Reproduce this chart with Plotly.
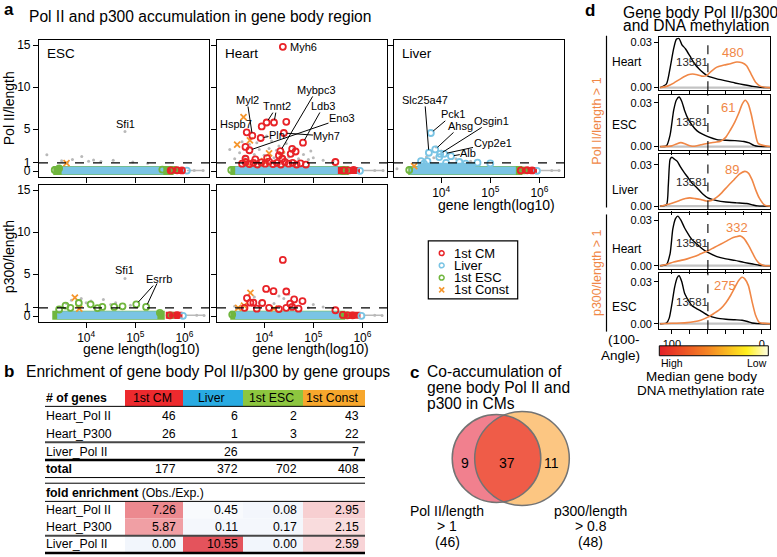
import numpy as np
import plotly.graph_objects as go

W, H = 777, 557
FONT = "Liberation Sans, Arial, Helvetica, sans-serif"

# ======================= DATA =======================
# ---- panel a: x = log10(gene length), y = signal/length ----
band_level = [0.1, 0.1]

esc_pol_band = {"green": [3.33, 5.78], "cyan": [3.50, 5.57], "red": [5.66, 5.99], "tail": [6.05, 6.39]}
esc_pol_gray_x = [3.20, 3.91, 4.79, 3.50, 3.72, 4.05, 4.30, 4.55, 4.95, 5.25, 3.62, 4.15, 6.20, 6.38]
esc_pol_gray_y = [1.95, 1.75, 4.74, 1.25, 1.40, 1.20, 1.15, 1.30, 1.10, 0.95, 1.05, 1.35, 0.10, 0.08]
esc_pol_green_x = [3.36, 3.45, 5.55, 5.70, 5.80]
esc_pol_green_y = [0.15, 0.35, 0.20, 0.10, 0.15]
esc_pol_orange_x = [3.60]
esc_pol_orange_y = [0.97]
esc_pol_red_x = [5.72, 5.85, 5.95]
esc_pol_red_y = [0.10, 0.12, 0.10]
esc_pol_cyan_x = [6.05]
esc_pol_cyan_y = [0.08]
esc_pol_label_gene = ["Sfi1"]
esc_pol_label_x = [4.79]
esc_pol_label_y = [4.74]

heart_pol_band = {"green": [3.31, 5.72], "cyan": [3.41, 5.55], "red": [5.50, 5.95], "tail": [6.02, 6.43]}
heart_pol_red_x = [4.38, 4.05, 4.20, 3.95, 4.45, 3.645, 3.76, 3.93, 4.40, 4.79, 3.62, 3.70, 4.33, 4.57,
                   4.54, 4.37, 4.64, 3.62, 4.06, 5.45, 3.82, 4.30, 3.55, 3.62, 3.70, 3.78, 3.86, 3.94,
                   4.02, 4.10, 4.18, 4.26, 4.34, 4.42, 4.50, 4.58, 4.66, 4.74, 4.85, 5.62, 5.72, 5.82]
heart_pol_red_y = [14.8, 5.8, 5.8, 5.33, 5.88, 4.63, 4.24, 3.96, 4.55, 3.40, 2.90, 2.50, 2.40, 2.67,
                   2.08, 1.49, 2.35, 1.49, 1.57, 1.10, 1.41, 1.88, 0.90, 1.10, 0.85, 1.00, 0.80, 1.05,
                   0.90, 1.15, 0.85, 1.00, 0.80, 1.10, 0.90, 1.00, 0.80, 0.95, 0.80, 0.10, 0.10, 0.15]
heart_pol_orange_x = [3.58, 3.45, 3.71, 4.10, 4.36, 3.65, 4.00]
heart_pol_orange_y = [6.43, 3.18, 3.68, 2.12, 2.00, 1.00, 1.20]
heart_pol_gray_x = [3.50, 3.60, 3.70, 3.80, 3.90, 4.00, 4.10, 4.20, 4.30, 4.40, 4.50, 4.60, 4.70, 4.80,
                    4.90, 5.00, 5.20, 3.40, 3.55, 4.15, 4.25, 4.45, 3.85, 4.05, 3.30, 4.95, 5.40, 6.25, 6.42]
heart_pol_gray_y = [2.2, 1.8, 3.2, 2.0, 2.6, 1.9, 2.7, 1.6, 3.0, 2.2, 1.7, 2.9, 1.5, 2.0,
                    1.4, 1.6, 1.3, 1.5, 3.5, 3.6, 2.5, 3.3, 3.4, 4.2, 2.6, 2.4, 1.2, 0.10, 0.08]
heart_pol_green_x = [3.33, 5.68]
heart_pol_green_y = [0.15, 0.10]
heart_pol_cyan_x = [5.95]
heart_pol_cyan_y = [0.05]
heart_pol_label_gene = ["Myh6", "Myl2", "Tnnt2", "Tnnt2", "Mybpc3", "Ldb3", "Eno3", "Hspb7", "Pln", "Myh7"]
heart_pol_label_x = [4.38, 3.76, 4.05, 4.20, 4.33, 4.79, 3.70, 3.645, 3.93, 4.40]
heart_pol_label_y = [14.8, 4.24, 5.8, 5.8, 2.40, 3.40, 2.50, 4.63, 3.96, 4.55]

liver_pol_band = {"green": [3.33, 5.65], "cyan": [3.36, 5.52], "red": [5.60, 5.95], "tail": [6.02, 6.42]}
liver_pol_blob_x = [3.52, 4.70]
liver_pol_blob_y = [0.6, 0.6]
liver_pol_cyan_x = [3.79, 3.75, 3.88, 3.98, 4.06, 4.20, 3.96, 3.59, 3.72, 5.00, 4.74, 4.37, 3.65, 4.10, 4.50, 5.95]
liver_pol_cyan_y = [4.55, 2.20, 2.60, 2.08, 2.08, 1.80, 1.69, 1.20, 1.20, 0.93, 1.02, 1.10, 0.90, 1.00, 0.90, 0.05]
liver_pol_gray_x = [3.90, 4.00, 3.85, 4.30, 3.70, 4.60, 3.10, 6.25, 6.40]
liver_pol_gray_y = [2.9, 2.4, 1.6, 1.5, 1.7, 1.2, 0.3, 0.10, 0.08]
liver_pol_orange_x = [3.45]
liver_pol_orange_y = [0.6]
liver_pol_green_x = [3.35, 5.68]
liver_pol_green_y = [0.15, 0.10]
liver_pol_red_x = [5.62, 5.75, 5.85]
liver_pol_red_y = [0.10, 0.12, 0.10]
liver_pol_label_gene = ["Slc25a47", "Pck1", "Ahsg", "Osgin1", "Cyp2e1", "Alb"]
liver_pol_label_x = [3.75, 3.79, 3.88, 3.98, 4.06, 4.20]
liver_pol_label_y = [2.20, 4.55, 2.60, 2.08, 2.08, 1.80]

esc_p300_band = {"green": [3.31, 5.60], "cyan": [3.41, 5.45], "red": [5.62, 5.96], "tail": [6.02, 6.40]}
esc_p300_green_x = [5.02, 5.22, 3.58, 3.85, 4.09, 4.33, 4.74, 4.57, 3.68, 4.23, 3.45, 5.50, 5.72]
esc_p300_green_y = [1.41, 1.10, 1.26, 1.57, 1.41, 1.10, 1.18, 1.10, 1.00, 0.97, 0.80, 0.40, 0.10]
esc_p300_orange_x = [3.77, 3.86]
esc_p300_orange_y = [2.2, 0.9]
esc_p300_gray_x = [4.79, 3.70, 3.90, 4.10, 4.35, 4.60, 4.00, 3.60, 4.50, 4.90, 6.25, 6.40]
esc_p300_gray_y = [4.5, 1.9, 2.1, 1.8, 2.0, 1.6, 1.6, 1.5, 1.4, 1.3, 0.10, 0.08]
esc_p300_red_x = [5.70, 5.85]
esc_p300_red_y = [0.10, 0.12]
esc_p300_cyan_x = [5.97]
esc_p300_cyan_y = [0.05]
esc_p300_label_gene = ["Sfi1", "Esrrb", "Esrrb"]
esc_p300_label_x = [4.79, 5.02, 5.22]
esc_p300_label_y = [4.5, 1.41, 1.10]

heart_p300_band = {"green": [3.31, 5.65], "cyan": [3.41, 5.55], "red": [5.62, 5.96], "tail": [6.02, 6.40]}
heart_p300_red_x = [4.38, 4.04, 4.19, 4.45, 3.65, 3.72, 3.78, 3.96, 4.61, 4.78, 4.53, 4.57, 5.45, 3.60,
                    3.85, 4.10, 4.30, 4.45, 4.70, 5.60, 5.70, 5.80]
heart_p300_red_y = [6.7, 3.25, 2.98, 2.94, 2.16, 1.61, 1.61, 1.57, 2.0, 1.8, 1.49, 1.1, 0.71, 1.0,
                    0.9, 1.0, 0.85, 1.0, 0.9, 0.15, 0.10, 0.10]
heart_p300_orange_x = [3.72, 3.47, 3.59, 4.20]
heart_p300_orange_y = [2.78, 1.0, 1.25, 0.9]
heart_p300_gray_x = [3.40, 3.90, 4.20, 4.40, 4.60, 4.90, 5.20, 4.50, 3.80, 5.00, 4.30, 6.25, 6.40]
heart_p300_gray_y = [1.2, 1.6, 1.5, 2.1, 1.3, 1.0, 1.1, 2.6, 2.3, 1.4, 2.4, 0.10, 0.08]
heart_p300_green_x = [3.35, 5.68]
heart_p300_green_y = [0.20, 0.10]
heart_p300_cyan_x = [5.98]
heart_p300_cyan_y = [0.05]

legend_names = ["1st CM", "Liver", "1st ESC", "1st Const"]

# ---- panel b ----
groups = ["1st CM", "Liver", "1st ESC", "1st Const"]
count_rows = ["Heart_Pol II", "Heart_P300", "Liver_Pol II"]
counts_heart_pol = [46, 6, 2, 43]
counts_heart_p300 = [26, 1, 3, 22]
counts_liver_pol = [None, 26, None, 7]
totals = [177, 372, 702, 408]
fold_rows = ["Heart_Pol II", "Heart_P300", "Liver_Pol II"]
fold_heart_pol = [7.26, 0.45, 0.08, 2.95]
fold_heart_p300 = [5.87, 0.11, 0.17, 2.15]
fold_liver_pol = [0.00, 10.55, 0.00, 2.59]

# ---- panel c ----
venn_only_pol = 9
venn_both = 37
venn_only_p300 = 11
venn_pol_total = 46
venn_p300_total = 48

# ---- panel d: x = 100-Angle, y = density ----
dens_groups = ["Heart", "ESC", "Liver", "Heart", "ESC"]
dens_n_all = [13581, 13581, 13581, 13581, 13581]
dens_n_sel = [480, 61, 89, 332, 275]
d1_black_v = [113, 106, 102, 98, 95, 92, 89, 85, 80, 75, 70, 65, 60, 50, 40, 30, 20, 10, 2, -9]
d1_black_y = [0, 0.0025, 0.013, 0.026, 0.032, 0.0325, 0.0285, 0.0258, 0.021, 0.016, 0.0125, 0.0098, 0.0076,
              0.0058, 0.0045, 0.0031, 0.0019, 0.0008, 0.0002, 0]
d1_orange_v = [113, 105, 98, 90, 82, 77, 72, 67, 62, 56, 50, 42, 35, 28, 22, 17, 12, 7, 2, -5, -9]
d1_orange_y = [0, 0.001, 0.003, 0.006, 0.0085, 0.009, 0.0085, 0.0076, 0.0078, 0.011, 0.0136, 0.015, 0.0158,
               0.017, 0.0165, 0.0145, 0.009, 0.0035, 0.001, 0.0001, 0]
d2_black_v = [113, 106, 102, 98, 95, 92, 89, 86, 82, 78, 72, 66, 60, 50, 40, 30, 20, 14, 9, 4, -9]
d2_black_y = [0, 0.0005, 0.008, 0.025, 0.032, 0.034, 0.031, 0.025, 0.019, 0.015, 0.0108, 0.0085, 0.0068,
              0.0048, 0.0043, 0.0041, 0.0035, 0.0025, 0.0008, 0.0001, 0]
d2_orange_v = [113, 100, 95, 90, 85, 80, 75, 68, 60, 52, 46, 40, 35, 30, 26, 22, 18.5, 15, 12, 8, 4, -9]
d2_orange_y = [0, 0.0005, 0.0018, 0.0027, 0.0018, 0.0006, 0.0002, 0.0012, 0.0023, 0.003, 0.0036, 0.0065,
               0.0114, 0.017, 0.0225, 0.029, 0.0318, 0.029, 0.0225, 0.011, 0.002, 0]
d3_black_v = [113, 106, 104, 102, 100, 97, 94, 91, 87, 83, 78, 72, 66, 60, 50, 40, 28, 17, 10, 5, -9]
d3_black_y = [0, 0.001, 0.015, 0.034, 0.0355, 0.034, 0.0325, 0.029, 0.025, 0.0215, 0.017, 0.0132, 0.009,
              0.006, 0.004, 0.003, 0.0024, 0.0019, 0.0009, 0.0002, 0]
d3_orange_v = [113, 106, 100, 92, 85, 80, 74, 68, 62, 56, 50, 45, 38, 31, 25, 19, 15, 11, 7, 3, -3, -9]
d3_orange_y = [0, 0.001, 0.0022, 0.004, 0.0055, 0.006, 0.0055, 0.0048, 0.0038, 0.0042, 0.0065, 0.0095,
               0.0145, 0.0192, 0.0232, 0.0252, 0.024, 0.0192, 0.012, 0.006, 0.0008, 0]
d4_black_v = [113, 106, 102, 99, 96, 93.5, 90, 86, 82, 78, 72, 66, 60, 50, 40, 30, 20, 10, 3, -9]
d4_black_y = [0, 0.0008, 0.008, 0.024, 0.031, 0.0326, 0.030, 0.025, 0.021, 0.0175, 0.0141, 0.011, 0.0087,
              0.006, 0.0045, 0.0035, 0.0022, 0.0011, 0.0003, 0]
d4_orange_v = [113, 105, 98, 90, 83, 75, 68, 60, 53, 46, 40, 34, 29, 24, 20, 15, 11, 7, 3, -2, -9]
d4_orange_y = [0, 0.001, 0.0025, 0.0035, 0.0045, 0.006, 0.0078, 0.0098, 0.012, 0.0141, 0.016, 0.018, 0.019,
               0.0196, 0.018, 0.0135, 0.009, 0.0045, 0.0015, 0.0002, 0]
d5_black_v = [113, 106, 103, 100, 97, 94, 92, 89, 86, 82, 78, 73, 68, 60, 50, 40, 30, 22, 16, 11, 5, -9]
d5_black_y = [0, 0.0005, 0.004, 0.014, 0.026, 0.033, 0.0343, 0.030, 0.022, 0.017, 0.013, 0.011, 0.0092,
              0.006, 0.004, 0.0032, 0.0028, 0.0025, 0.0016, 0.0005, 0.0001, 0]
d5_orange_v = [113, 100, 90, 83, 76, 68, 60, 53, 46, 40, 35, 30, 26, 22, 19, 15, 11, 7, 3, -9]
d5_orange_y = [0, 0.0003, 0.0005, 0.0008, 0.0014, 0.0025, 0.0047, 0.0075, 0.0106, 0.015, 0.02, 0.026,
               0.0307, 0.0332, 0.032, 0.0272, 0.016, 0.006, 0.001, 0]
dens_threshold = 60

# ======================= STYLE / LAYOUT =======================
RED = "rgb(232,35,40)"
CYAN = "rgb(122,196,228)"
GREEN = "rgb(112,182,62)"
ORANGE = "rgb(245,150,45)"
GRAY = "rgb(185,185,185)"
DORANGE = "rgb(240,135,70)"
TITLE = 15.6
GENE_FS = 11

shapes, annotations, layout = [], [], {}
fig = go.Figure()


def T(x, y, s, size=12, xa="center", ya="middle", color="black", angle=0):
    annotations.append(dict(x=x / W, y=1 - y / H, xref="paper", yref="paper", text=s, showarrow=False,
                            xanchor=xa, yanchor=ya, textangle=angle, borderpad=0,
                            font=dict(size=size, color=color, family=FONT)))


def L(x0, y0, x1, y1, w=1.0, color="black", dash=None):
    ln = dict(color=color, width=w)
    if dash:
        ln["dash"] = dash
    shapes.append(dict(type="line", xref="paper", yref="paper", x0=x0 / W, y0=1 - y0 / H,
                       x1=x1 / W, y1=1 - y1 / H, line=ln))


def R(x0, y0, x1, y1, fill="rgba(0,0,0,0)", lc="rgba(0,0,0,0)", w=0):
    shapes.append(dict(type="rect", xref="paper", yref="paper", x0=x0 / W, y0=1 - y1 / H,
                       x1=x1 / W, y1=1 - y0 / H, fillcolor=fill, line=dict(color=lc, width=w), layer="below"))


def C(cx, cy, r, fill="rgba(0,0,0,0)", lc="black", w=1.0):
    shapes.append(dict(type="circle", xref="paper", yref="paper", x0=(cx - r) / W, x1=(cx + r) / W,
                       y0=1 - (cy + r) / H, y1=1 - (cy - r) / H, fillcolor=fill, line=dict(color=lc, width=w)))


def names(i):
    s = "" if i == 1 else str(i)
    return "x" + s, "y" + s, "xaxis" + s, "yaxis" + s


def pts(xn, yn, xs, ys, color, symbol, size, lw):
    fig.add_trace(go.Scatter(x=xs, y=ys, mode="markers", xaxis=xn, yaxis=yn, hoverinfo="skip",
                             showlegend=False, cliponaxis=True,
                             marker=dict(symbol=symbol, size=size, color=color, line=dict(width=lw, color=color))))


def seg(xn, yn, xs, ys, color, width):
    fig.add_trace(go.Scatter(x=xs, y=ys, mode="lines", xaxis=xn, yaxis=yn, hoverinfo="skip",
                             showlegend=False, line=dict(color=color, width=width)))


# ---------------- panel a ----------------
SC_XR = [3.04, 6.50]
SC_YR = [-0.65, 15.65]
AX_STYLE = dict(showline=True, mirror=True, linecolor="black", linewidth=1.2, ticks="outside", ticklen=5,
                tickwidth=1.1, tickcolor="black", showgrid=False, zeroline=False,
                tickfont=dict(size=12, family=FONT, color="black"))

label_pos = {
    ("esc_pol", "Sfi1"): (125, 124, "plain"),
    ("heart_pol", "Myh6"): (289, 46, "left"),
    ("heart_pol", "Myl2"): (247, 100, "arrow"),
    ("heart_pol", "Tnnt2"): (277, 106, "arrow"),
    ("heart_pol", "Mybpc3"): (316.5, 90, "arrow"),
    ("heart_pol", "Ldb3"): (323.5, 106, "arrow"),
    ("heart_pol", "Eno3"): (342, 118.5, "arrow"),
    ("heart_pol", "Hspb7"): (236, 124, "arrow"),
    ("heart_pol", "Pln"): (277, 135, "arrow"),
    ("heart_pol", "Myh7"): (327, 136, "arrow"),
    ("liver_pol", "Slc25a47"): (424.7, 100, "arrow"),
    ("liver_pol", "Pck1"): (453, 114.3, "arrow"),
    ("liver_pol", "Ahsg"): (460.5, 126, "arrow"),
    ("liver_pol", "Osgin1"): (492, 121, "arrow"),
    ("liver_pol", "Cyp2e1"): (492.5, 143.3, "arrow"),
    ("liver_pol", "Alb"): (468.3, 153.3, "arrow"),
    ("esc_p300", "Sfi1"): (124.7, 271.3, "plain"),
    ("esc_p300", "Esrrb"): (159, 280.3, "arrow"),
}

panels = [
    dict(key="esc_pol", box=(39, 209, 39, 177), band=esc_pol_band, title="ESC", ylab=True, xlab=False,
         gray=(esc_pol_gray_x, esc_pol_gray_y), orange=(esc_pol_orange_x, esc_pol_orange_y),
         cyan=(esc_pol_cyan_x, esc_pol_cyan_y), green=(esc_pol_green_x, esc_pol_green_y),
         red=(esc_pol_red_x, esc_pol_red_y),
         labels=(esc_pol_label_gene, esc_pol_label_x, esc_pol_label_y)),
    dict(key="heart_pol", box=(217, 387, 39, 177), band=heart_pol_band, title="Heart", ylab=False, xlab=False,
         gray=(heart_pol_gray_x, heart_pol_gray_y), orange=(heart_pol_orange_x, heart_pol_orange_y),
         cyan=(heart_pol_cyan_x, heart_pol_cyan_y), green=(heart_pol_green_x, heart_pol_green_y),
         red=(heart_pol_red_x, heart_pol_red_y),
         labels=(heart_pol_label_gene, heart_pol_label_x, heart_pol_label_y)),
    dict(key="liver_pol", box=(394, 564, 39, 177), band=liver_pol_band, title="Liver", ylab=False, xlab=True,
         gray=(liver_pol_gray_x, liver_pol_gray_y), orange=(liver_pol_orange_x, liver_pol_orange_y),
         green=(liver_pol_green_x, liver_pol_green_y), red=(liver_pol_red_x, liver_pol_red_y),
         cyan=(liver_pol_cyan_x, liver_pol_cyan_y),
         labels=(liver_pol_label_gene, liver_pol_label_x, liver_pol_label_y)),
    dict(key="esc_p300", box=(39, 209, 185, 323), band=esc_p300_band, title=None, ylab=True, xlab=True,
         gray=(esc_p300_gray_x, esc_p300_gray_y), orange=(esc_p300_orange_x, esc_p300_orange_y),
         cyan=(esc_p300_cyan_x, esc_p300_cyan_y), red=(esc_p300_red_x, esc_p300_red_y),
         green=(esc_p300_green_x, esc_p300_green_y),
         labels=(esc_p300_label_gene, esc_p300_label_x, esc_p300_label_y)),
    dict(key="heart_p300", box=(217, 387, 185, 323), band=heart_p300_band, title=None, ylab=False, xlab=True,
         gray=(heart_p300_gray_x, heart_p300_gray_y), cyan=(heart_p300_cyan_x, heart_p300_cyan_y),
         green=(heart_p300_green_x, heart_p300_green_y), red=(heart_p300_red_x, heart_p300_red_y),
         orange=(heart_p300_orange_x, heart_p300_orange_y),
         labels=([], [], [])),
]

idx = 0
for p in panels:
    idx += 1
    xn, yn, xa, ya = names(idx)
    x0, x1, y0, y1 = p["box"]
    layout[xa] = dict(domain=[x0 / W, x1 / W], range=SC_XR, anchor=yn, tickvals=[4, 5, 6],
                      ticktext=["10<sup>4</sup>", "10<sup>5</sup>", "10<sup>6</sup>"],
                      showticklabels=p["xlab"], **AX_STYLE)
    layout[ya] = dict(domain=[1 - y1 / H, 1 - y0 / H], range=SC_YR, anchor=xn, tickvals=[0, 1, 5, 10, 15],
                      showticklabels=p["ylab"], **AX_STYLE)
    b = p["band"]
    seg(xn, yn, b["green"], band_level, GREEN, 9)
    seg(xn, yn, b["cyan"], band_level, CYAN, 8)
    if p["key"] == "liver_pol":
        seg(xn, yn, liver_pol_blob_x, liver_pol_blob_y, CYAN, 7)
    seg(xn, yn, b["red"], band_level, RED, 7)
    seg(xn, yn, b["tail"], band_level, GRAY, 1.5)
    pts(xn, yn, *p["gray"], GRAY, "circle", 3, 0)
    for grp, col, sym in [("orange", ORANGE, "x-thin-open"), ("cyan", CYAN, "circle-open"),
                          ("green", GREEN, "circle-open"), ("red", RED, "circle-open")]:
        if grp in p:
            pts(xn, yn, *p[grp], col, sym, 6, 1.8)
    shapes.append(dict(type="line", xref=xn + " domain", yref=yn, x0=0, x1=1, y0=1, y1=1,
                       line=dict(color="black", width=1.2, dash="dash")))
    if p["title"]:
        T(x0 + 7, 52.5, p["title"], 13.5, xa="left")
    seen = set()
    genes, gx, gy = p["labels"]
    for g, vx, vy in zip(genes, gx, gy):
        lx, ly, mode = label_pos[(p["key"], g)]
        if mode == "plain":
            T(lx, ly, g, GENE_FS)
            continue
        if mode == "left":
            T(lx, ly, g, GENE_FS, xa="left")
            continue
        ppx = x0 + (vx - SC_XR[0]) / (SC_XR[1] - SC_XR[0]) * (x1 - x0)
        ppy = y1 - (vy - SC_YR[0]) / (SC_YR[1] - SC_YR[0]) * (y1 - y0)
        annotations.append(dict(x=vx, y=vy, xref=xn, yref=yn, text=g if g not in seen else " ",
                                showarrow=True, arrowhead=0, arrowwidth=1, arrowcolor="black",
                                ax=lx - ppx, ay=ly - ppy, standoff=3, borderpad=0,
                                font=dict(size=GENE_FS, family=FONT, color="black")))
        seen.add(g)

T(3, 9, "<b>a</b>", 17, xa="left")
T(28, 16, "Pol II and p300 accumulation in gene body region", TITLE, xa="left")
T(9, 108, "Pol II/length", 14, angle=-90)
T(9, 258, "p300/length", 14, angle=-90)
T(496.5, 205, "gene length(log10)", 14)
T(141.5, 351, "gene length(log10)", 14)
T(310.5, 351, "gene length(log10)", 14)

# legend box
R(428.3, 241.7, 517.7, 300, fill="white", lc="black", w=1.2)
leg_rows = [254, 266.3, 278.7, 291]
for name, col, yy in zip(legend_names, [RED, CYAN, GREEN, ORANGE], leg_rows):
    if name == "1st Const":
        L(439.2, yy - 2.5, 444.2, yy + 2.5, 1.6, col)
        L(439.2, yy + 2.5, 444.2, yy - 2.5, 1.6, col)
    else:
        C(441.7, yy, 2.4, lc=col, w=1.5)
    T(453, yy, name, 13, xa="left")

# ---------------- panel b ----------------
T(3, 373, "<b>b</b>", 17, xa="left")
T(25, 373, "Enrichment of gene body Pol II/p300 by gene groups", TITLE, xa="left")
TAB_X0 = 45
col_edges = [125, 183, 243, 303, 365]
num_right = [177, 239, 298, 360]
HEAD_COLORS = ["rgb(237,42,46)", "rgb(41,171,226)", "rgb(141,198,63)", "rgb(247,167,45)"]


def fold_color(v):
    if v >= 1:
        t = min(v / 12.0, 1.0)
        c = (255 - t * 30, 255 - t * 195, 255 - t * 185)
    else:
        t = (1 - v) * 0.35
        c = (255 - t * 35, 255 - t * 25, 255 - t * 8)
    return "rgb(%d,%d,%d)" % c


TB = 12.3
for j, g in enumerate(groups):
    R(col_edges[j], 391.7, col_edges[j + 1], 408.3, fill=HEAD_COLORS[j])
    T((col_edges[j] + col_edges[j + 1]) / 2 - 2, 400, g, TB)
T(TAB_X0, 400, "<b># of genes</b>", TB, xa="left")
count_table = [counts_heart_pol, counts_heart_p300, counts_liver_pol]
row_y = [418.3, 436, 454]
for i, name in enumerate(count_rows):
    T(TAB_X0, row_y[i], name, TB, xa="left")
    for j, v in enumerate(count_table[i]):
        if v is not None:
            T(num_right[j], row_y[i], str(v), TB, xa="right")
T(TAB_X0, 471.3, "<b>total</b>", TB, xa="left")
for j, v in enumerate(totals):
    T(num_right[j], 471.3, str(v), TB, xa="right")
T(TAB_X0, 496, "<b>fold enrichment</b> (Obs./Exp.)", TB, xa="left")
fold_table = [fold_heart_pol, fold_heart_p300, fold_liver_pol]
fold_y = [512.3, 530, 547.3]
fold_cells = [(504, 521), (521, 538.5), (538.5, 556)]
for i, name in enumerate(fold_rows):
    T(TAB_X0, fold_y[i], name, TB, xa="left")
    for j, v in enumerate(fold_table[i]):
        R(col_edges[j], fold_cells[i][0], col_edges[j + 1], fold_cells[i][1], fill=fold_color(v))
        T(num_right[j], fold_y[i], "%.2f" % v, TB, xa="right")
for yy, ww, cc in [(408.3, 1, "black"), (444.5, 2, "rgb(70,70,70)"), (462.3, 2.5, "black"),
                   (480, 1, "black"), (485.7, 1, "black"), (504, 1, "black"),
                   (538.5, 2, "rgb(70,70,70)"), (556, 2.5, "black")]:
    L(TAB_X0, yy, 365, yy, ww, cc)

# ---------------- panel c ----------------
T(409, 374, "<b>c</b>", 17, xa="left")
T(426, 373.3, "Co-accumulation of", TITLE, xa="left")
T(426, 389.3, "gene body Pol II and", TITLE, xa="left")
T(426, 405, "p300 in CMs", TITLE, xa="left")
c1x, c2x, ccy, r1, r2 = 496.5, 522.0, 460.8, 44.3, 47.3
C(c2x, ccy, r2, fill="rgb(252,198,130)", lc="rgba(0,0,0,0)", w=0)
C(c1x, ccy, r1, fill="rgb(241,128,142)", lc="rgba(0,0,0,0)", w=0)
d = c2x - c1x
a = (r1 ** 2 - r2 ** 2 + d ** 2) / (2 * d)
hh = np.sqrt(r1 ** 2 - a ** 2)
th1 = np.arctan2(hh, a)
th2 = np.arctan2(hh, d - a)
ang1 = np.linspace(-th1, th1, 60)
ang2 = np.linspace(np.pi - th2, np.pi + th2, 60)
lens = [(c1x + r1 * np.cos(t), ccy + r1 * np.sin(t)) for t in ang1] + \
       [(c2x + r2 * np.cos(t), ccy + r2 * np.sin(t)) for t in ang2]
path = "M " + " L ".join("%.5f,%.5f" % (xx / W, 1 - yy / H) for xx, yy in lens) + " Z"
shapes.append(dict(type="path", xref="paper", yref="paper", path=path, fillcolor="rgb(239,92,72)",
                   line=dict(width=0)))
C(c1x, ccy, r1, lc="rgb(115,115,115)", w=1.5)
C(c2x, ccy, r2, lc="rgb(115,115,115)", w=1.5)
T(465, 465, str(venn_only_pol), 14)
T(506.7, 465, str(venn_both), 14)
T(551.5, 465, str(venn_only_p300), 14)
T(447.3, 513.3, "Pol II/length", 14)
T(447.3, 529.3, "> 1", 14)
T(447.3, 545, "(%d)" % venn_pol_total, 14)
T(590.7, 513.3, "p300/length", 14)
T(590.7, 529.3, "> 0.8", 14)
T(590.7, 545, "(%d)" % venn_p300_total, 14)

# ---------------- panel d ----------------
T(584, 10, "<b>d</b>", 17, xa="left")
T(622, 11.7, "Gene body Pol II/p300", TITLE, xa="left")
T(622, 24.5, "and DNA methylation", TITLE, xa="left")
dens_boxes = [(36.5, 90), (95, 150), (154, 210), (213.5, 270), (274, 330.7)]
dens_ranges = [[-0.0018, 0.0334], [-0.0023, 0.0352], [-0.0024, 0.0379], [-0.0022, 0.0347], [-0.004, 0.0362]]
dens_curves = [(d1_black_v, d1_black_y, d1_orange_v, d1_orange_y),
               (d2_black_v, d2_black_y, d2_orange_v, d2_orange_y),
               (d3_black_v, d3_black_y, d3_orange_v, d3_orange_y),
               (d4_black_v, d4_black_y, d4_orange_v, d4_orange_y),
               (d5_black_v, d5_black_y, d5_orange_v, d5_orange_y)]
group_lab_y = [61.7, 125, 190, 249.3, 308.3]
nall_pos = [(691.7, 61.7), (691.7, 121.7), (691.7, 182.7), (691.7, 243.3), (691.7, 303.3)]
nsel_pos = [(733.3, 51.7), (728.3, 107.3), (731.7, 170), (736.7, 228.3), (725, 286.7)]
DX0, DX1 = 659.3, 770
DAX = dict(AX_STYLE, ticklen=4, tickfont=dict(size=11, family=FONT, color="black"))
for k in range(5):
    idx += 1
    xn, yn, xa, ya = names(idx)
    t0, t1 = dens_boxes[k]
    layout[xa] = dict(domain=[DX0 / W, DX1 / W], range=[114, -9], anchor=yn,
                      tickvals=[100, 80, 60, 40, 20, 0], ticktext=["100", "", "", "", "", "0"],
                      showticklabels=(k == 4), **DAX)
    layout[ya] = dict(domain=[1 - t1 / H, 1 - t0 / H], range=dens_ranges[k], anchor=xn,
                      tickvals=[0, 0.03], ticktext=["0.00", "0.03"], **DAX)
    shapes.append(dict(type="line", xref=xn + " domain", yref=yn, x0=0, x1=1, y0=0, y1=0, layer="below",
                       line=dict(color="rgb(195,195,195)", width=2.2)))
    bv, by, ov, oy = dens_curves[k]
    fig.add_trace(go.Scatter(x=bv, y=by, mode="lines", xaxis=xn, yaxis=yn, hoverinfo="skip", showlegend=False,
                             line=dict(color="black", width=1.4, shape="spline", smoothing=0.6)))
    fig.add_trace(go.Scatter(x=ov, y=oy, mode="lines", xaxis=xn, yaxis=yn, hoverinfo="skip", showlegend=False,
                             line=dict(color=DORANGE, width=1.6, shape="spline", smoothing=0.6)))
    shapes.append(dict(type="line", xref=xn, yref=yn + " domain", x0=dens_threshold, x1=dens_threshold,
                       y0=0, y1=1, line=dict(color="black", width=1.1, dash="dash")))
    T(611, group_lab_y[k], dens_groups[k], 12, xa="left")
    T(nall_pos[k][0], nall_pos[k][1], str(dens_n_all[k]), 11.5, color="rgb(40,40,40)")
    T(nsel_pos[k][0], nsel_pos[k][1], str(dens_n_sel[k]), 13, color=DORANGE)

L(606.5, 35, 606.5, 208, 1.2)
L(606.5, 215, 606.5, 333, 1.2)
T(597, 121.5, "Pol II/length > 1", 12.5, color=DORANGE, angle=-90)
T(597, 274, "p300/length > 1", 12.5, color=DORANGE, angle=-90)
T(641, 340.7, "(100-", 13.5, xa="right")
T(641, 357, "Angle)", 13.5, xa="right")

# colour key
idx += 1
xn, yn, xa, ya = names(idx)
layout[xa] = dict(domain=[659.3 / W, 768.3 / W], range=[0, 1], anchor=yn, visible=False)
layout[ya] = dict(domain=[1 - 357.3 / H, 1 - 347.3 / H], range=[-0.5, 0.5], anchor=xn, visible=False)
fig.add_trace(go.Heatmap(z=[[0, 1]], x=[0, 1], y=[0], xaxis=xn, yaxis=yn, zsmooth="best", showscale=False,
                         hoverinfo="skip",
                         colorscale=[[0, "rgb(228,32,38)"], [0.45, "rgb(245,135,35)"],
                                     [0.8, "rgb(255,240,30)"], [1, "rgb(255,255,235)"]]))
shapes.append(dict(type="rect", xref="paper", yref="paper", x0=659.3 / W, x1=768.3 / W,
                   y0=1 - 357.3 / H, y1=1 - 347.3 / H, line=dict(color="black", width=1)))
T(660, 364.5, "High", 10.5, xa="left")
T(768, 364.5, "Low", 10.5, xa="right")
T(701, 378.3, "Median gene body", 13.5)
T(701, 392.7, "DNA methylation rate", 13.5)

fig.update_layout(width=W, height=H, margin=dict(l=0, r=0, t=0, b=0), paper_bgcolor="white",
                  plot_bgcolor="white", showlegend=False, font=dict(family=FONT, color="black"),
                  shapes=shapes, annotations=annotations, **layout)
fig.write_html("out.html", config={"displayModeBar": False},
               post_script="document.body.style.margin='0';document.body.style.overflow='hidden';")
